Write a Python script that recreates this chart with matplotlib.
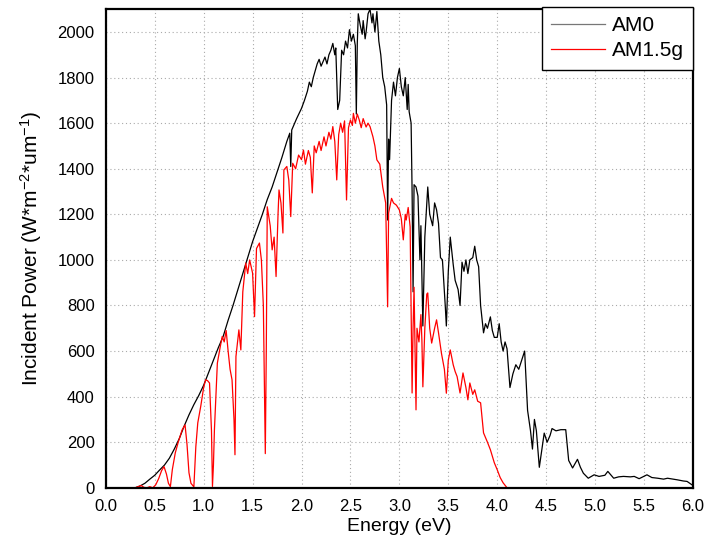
import numpy as np
import matplotlib
matplotlib.use("Agg")
import matplotlib.pyplot as plt

plt.rcParams['font.family'] = ['Liberation Sans', 'DejaVu Sans']
plt.rcParams['mathtext.default'] = 'regular'

# AM0 spectrum (energy in eV, power in W/m2/um)
am0_e = [0.30, 0.35, 0.40, 0.45, 0.50, 0.55, 0.60, 0.65, 0.70, 0.75, 0.80, 0.85, 0.90, 0.95,
         1.00, 1.05, 1.10, 1.15, 1.20, 1.25, 1.30, 1.35, 1.40, 1.45, 1.50, 1.55, 1.60, 1.65,
         1.70, 1.75, 1.80, 1.85, 1.88, 1.89, 1.90, 1.95, 2.00, 2.03, 2.06, 2.08, 2.10, 2.12,
         2.14, 2.16, 2.18, 2.20, 2.22, 2.24, 2.26, 2.28, 2.30, 2.32, 2.34, 2.35, 2.37, 2.39,
         2.41, 2.43, 2.45, 2.47, 2.49, 2.51, 2.53, 2.55, 2.56, 2.57, 2.58, 2.60, 2.62, 2.63,
         2.65, 2.66, 2.68, 2.70, 2.72, 2.73, 2.75, 2.77, 2.79, 2.81, 2.83, 2.85, 2.87, 2.88,
         2.89, 2.90, 2.92, 2.94, 2.96, 2.98, 3.00, 3.02, 3.04, 3.06, 3.08, 3.09, 3.10, 3.12,
         3.13, 3.14, 3.15, 3.17, 3.19, 3.21, 3.22, 3.24, 3.26, 3.29, 3.31, 3.34, 3.36, 3.38,
         3.40, 3.42, 3.44, 3.47, 3.48, 3.50, 3.52, 3.55, 3.57, 3.60, 3.62, 3.64, 3.66, 3.68,
         3.70, 3.72, 3.75, 3.77, 3.79, 3.81, 3.83, 3.86, 3.88, 3.90, 3.93, 3.95, 3.97, 4.00,
         4.02, 4.04, 4.06, 4.08, 4.10, 4.13, 4.16, 4.19, 4.22, 4.25, 4.28, 4.30, 4.31, 4.34,
         4.36, 4.38, 4.40, 4.43, 4.46, 4.48, 4.51, 4.54, 4.56, 4.60, 4.65, 4.70, 4.73, 4.77,
         4.82, 4.85, 4.88, 4.93, 4.99, 5.04, 5.10, 5.13, 5.19, 5.24, 5.29, 5.36, 5.40, 5.45,
         5.53, 5.58, 5.64, 5.70, 5.74, 5.80, 5.84, 5.90, 5.94, 5.99]
am0_p = [0, 8, 20, 38, 55, 78, 100, 130, 170, 215, 270, 320, 365, 405,
         450, 505, 560, 615, 665, 735, 800, 870, 940, 1010, 1080, 1140, 1200, 1265,
         1320, 1385, 1450, 1520, 1556, 1410, 1570, 1620, 1665, 1700, 1740, 1780, 1760, 1800,
         1830, 1860, 1880, 1850, 1870, 1890, 1860, 1900, 1920, 1950, 1900, 1930, 1660, 1700,
         1920, 1900, 1960, 1930, 2010, 1960, 1990, 1940, 1640, 1950, 2080, 2030, 1990, 2050,
         1970, 2000, 2080, 2100, 2040, 2080, 2000, 2090, 1960, 1900, 1800, 1760, 1680, 1175,
         1530, 1440, 1700, 1780, 1720, 1800, 1840, 1760, 1720, 1800, 1660, 1770, 1650, 1600,
         1300, 860, 1330, 1320, 1280, 1000, 1150, 710, 1100, 1320, 1200, 1150, 1250, 1220,
         1160, 1010, 1000, 790, 710, 950, 1100, 980, 910, 870, 800, 990, 950, 1000,
         940, 1000, 1010, 1060, 1000, 970, 800, 680, 720, 700, 750, 690, 660, 660,
         720, 640, 600, 640, 610, 440, 500, 540, 520, 560, 600, 420, 340, 250,
         170, 300, 250, 90, 180, 240, 200, 230, 260, 250, 255, 255, 120, 87,
         125, 90, 64, 42, 57, 50, 55, 72, 42, 48, 50, 48, 50, 40,
         57, 45, 42, 38, 42, 38, 35, 30, 28, 13]

# AM1.5g spectrum
am15_e = [0.30, 0.33, 0.36, 0.39, 0.42, 0.45, 0.48, 0.51, 0.54, 0.57, 0.595, 0.62, 0.64, 0.66,
          0.68, 0.71, 0.74, 0.78, 0.81, 0.83, 0.85, 0.87, 0.90, 0.92, 0.94, 0.97, 1.00, 1.02,
          1.04, 1.06, 1.08, 1.09, 1.10, 1.11, 1.14, 1.17, 1.19, 1.21, 1.23, 1.25, 1.27, 1.29,
          1.31, 1.32, 1.33, 1.36, 1.38, 1.40, 1.43, 1.45, 1.47, 1.50, 1.52, 1.54, 1.57, 1.59,
          1.61, 1.63, 1.64, 1.65, 1.68, 1.70, 1.72, 1.74, 1.76, 1.77, 1.79, 1.81, 1.82, 1.85,
          1.87, 1.89, 1.91, 1.94, 1.97, 2.00, 2.02, 2.04, 2.07, 2.09, 2.11, 2.13, 2.15, 2.18,
          2.20, 2.23, 2.25, 2.28, 2.30, 2.32, 2.34, 2.36, 2.38, 2.40, 2.42, 2.44, 2.46, 2.48,
          2.50, 2.52, 2.53, 2.55, 2.57, 2.59, 2.61, 2.63, 2.66, 2.68, 2.70, 2.73, 2.75, 2.77,
          2.80, 2.83, 2.86, 2.88, 2.89, 2.92, 2.94, 2.97, 3.00, 3.02, 3.04, 3.06, 3.07, 3.09,
          3.11, 3.12, 3.13, 3.14, 3.15, 3.17, 3.18, 3.20, 3.22, 3.23, 3.24, 3.26, 3.28, 3.29,
          3.31, 3.33, 3.36, 3.38, 3.40, 3.43, 3.46, 3.48, 3.50, 3.52, 3.55, 3.57, 3.59, 3.62,
          3.65, 3.68, 3.70, 3.72, 3.75, 3.77, 3.80, 3.83, 3.86, 3.90, 3.93, 3.97, 4.00, 4.03,
          4.06, 4.10, 4.45]
am15_p = [0, 5, 10, 2, 0, 5, 0, 13, 40, 75, 93, 60, 20, 5,
          80, 153, 200, 254, 276, 190, 66, 20, 4, 180, 285, 357, 440, 474,
          470, 460, 250, 6, 100, 254, 547, 620, 664, 640, 690, 600, 520, 474,
          300, 145, 576, 693, 605, 860, 986, 940, 1000, 942, 751, 1050, 1074, 1000,
          800, 150, 600, 1233, 1150, 1044, 1100, 927, 1200, 1307, 1250, 1118, 1395, 1410,
          1350, 1190, 1424, 1400, 1460, 1440, 1482, 1420, 1480, 1450, 1294, 1500, 1470, 1520,
          1480, 1540, 1500, 1560, 1530, 1585, 1520, 1351, 1550, 1600, 1560, 1610, 1263, 1580,
          1614, 1590, 1643, 1600, 1640, 1614, 1580, 1620, 1583, 1600, 1585, 1540, 1500, 1439,
          1420, 1320, 1250, 794, 1206, 1270, 1250, 1240, 1219, 1180, 1088, 1200, 1175, 1230,
          1145, 795, 416, 700, 880, 342, 700, 640, 760, 649, 443, 700, 850, 855,
          700, 635, 700, 737, 680, 590, 520, 415, 560, 605, 540, 510, 488, 416,
          504, 440, 386, 460, 410, 430, 380, 373, 241, 200, 167, 110, 79, 45,
          22, 0, 0]

xticks = np.arange(0, 6.01, 0.5)
yticks = np.arange(0, 2001, 200)

fig = plt.figure(figsize=(7.1, 5.42), dpi=100)
ax = fig.add_axes([0.149, 0.100, 0.827, 0.883])

ax.plot(am0_e, am0_p, color='black', linewidth=0.9, label='AM0')
ax.plot(am15_e, am15_p, color='red', linewidth=0.9, label='AM1.5g')

ax.set_xlim(0, 6)
ax.set_ylim(0, 2100)
ax.set_xticks(xticks)
ax.set_xticklabels(['%.1f' % t for t in xticks])
ax.set_yticks(yticks)
ax.tick_params(length=0, labelsize=12, pad=8)
ax.grid(True, linestyle=(0, (1, 2.5)), color='#aaaaaa', linewidth=0.8)

for s in ax.spines.values():
    s.set_linewidth(1.6)

ax.set_xlabel('Energy (eV)', fontsize=14, labelpad=3)
ax.set_ylabel('Incident Power (W*m$^{-2}$*um$^{-1}$)', fontsize=15, labelpad=10)

leg = ax.legend(loc='upper right', bbox_to_anchor=(1.0, 1.005), borderaxespad=0,
                fancybox=False, edgecolor='black', framealpha=1, fontsize=15,
                handlelength=2.6, handletextpad=0.3, borderpad=0.45, labelspacing=0.3)
leg.get_frame().set_linewidth(1.0)
leg.legend_handles[0].set_color('#777777')

fig.savefig('out.png', dpi=100)
